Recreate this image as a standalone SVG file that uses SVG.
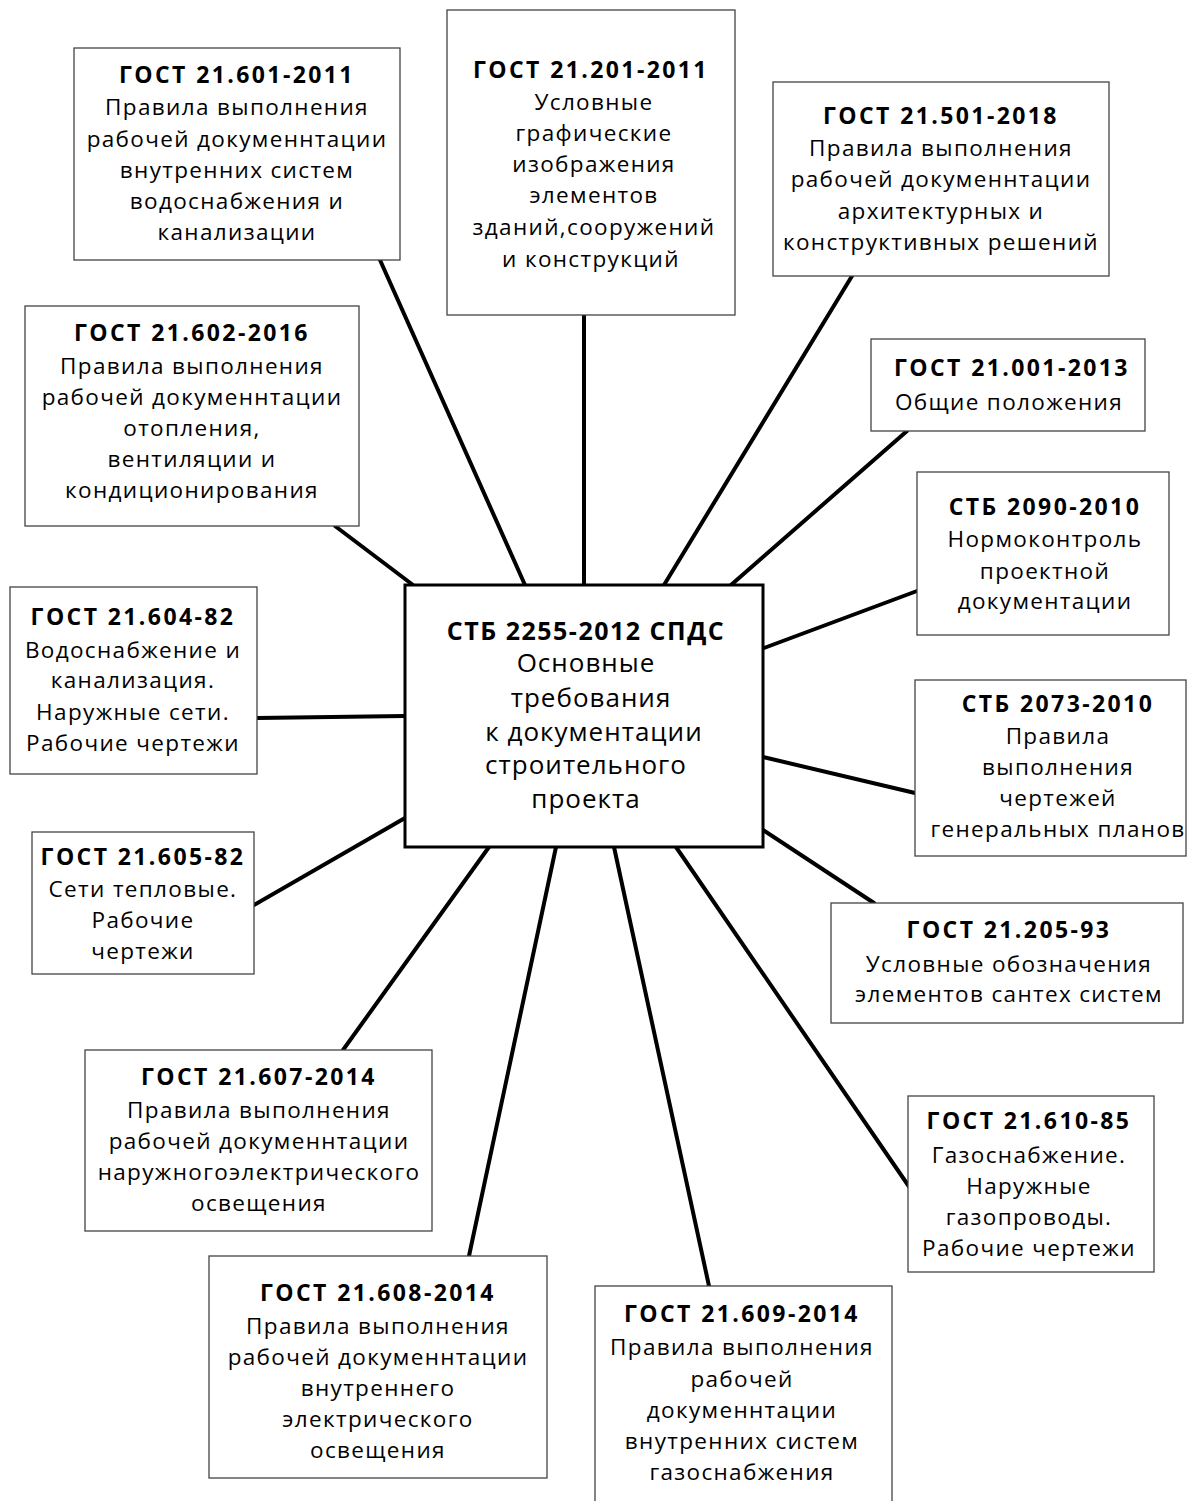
<svg xmlns="http://www.w3.org/2000/svg" width="1187" height="1501" viewBox="0 0 1187 1501">
<style>
.box{fill:#fff;stroke:#444;stroke-width:1.3}
.cbox{fill:#fff;stroke:#000;stroke-width:3}
text{font-family:"Open Sans","Noto Sans",sans-serif;fill:#000;text-anchor:middle;dominant-baseline:central}
.t{font-size:23px;font-weight:bold;letter-spacing:2.4px}
.b{font-size:22.5px;letter-spacing:1.35px}
.ct{font-size:25px;font-weight:bold;letter-spacing:1.5px}
.cb{font-size:26px;letter-spacing:1px}
.con line{stroke:#000;stroke-width:4;stroke-linecap:round}
</style>
<rect width="1187" height="1501" fill="#fff"/>
<g class="con">
<line x1="380" y1="260" x2="525" y2="585"/>
<line x1="584" y1="315" x2="584" y2="585"/>
<line x1="852" y1="276" x2="664" y2="585"/>
<line x1="907" y1="431" x2="731" y2="585"/>
<line x1="917" y1="591" x2="764" y2="648"/>
<line x1="915" y1="793" x2="763" y2="757"/>
<line x1="874" y1="903" x2="763" y2="830"/>
<line x1="910" y1="1188" x2="676" y2="847"/>
<line x1="709" y1="1286" x2="614" y2="847"/>
<line x1="469" y1="1256" x2="556" y2="847"/>
<line x1="343" y1="1050" x2="489" y2="847"/>
<line x1="254" y1="905" x2="405" y2="818"/>
<line x1="257" y1="718" x2="405" y2="716"/>
<line x1="335" y1="526" x2="413" y2="585"/>
</g>
<g id="center">
<rect class="cbox" x="405" y="585" width="358" height="262"/>
<text class="ct" x="586" y="630">СТБ 2255-2012 СПДС</text>
<text class="cb" x="586" y="662">Основные</text>
<text class="cb" x="591" y="697">требования</text>
<text class="cb" x="594" y="731">к документации</text>
<text class="cb" x="586" y="764">строительного</text>
<text class="cb" x="586" y="798">проекта</text>
</g>
<g id="n601">
<rect class="box" x="74" y="48" width="326" height="212"/>
<text class="t" x="237" y="74">ГОСТ 21.601-2011</text>
<text class="b" x="237" y="106">Правила выполнения</text>
<text class="b" x="237" y="138">рабочей докуменнтации</text>
<text class="b" x="237" y="169">внутренних систем</text>
<text class="b" x="237" y="200">водоснабжения и</text>
<text class="b" x="237" y="231">канализации</text>
</g>
<g id="n201">
<rect class="box" x="447" y="10" width="288" height="305"/>
<text class="t" x="591" y="69">ГОСТ 21.201-2011</text>
<text class="b" x="594" y="101">Условные</text>
<text class="b" x="594" y="132">графические</text>
<text class="b" x="594" y="163">изображения</text>
<text class="b" x="594" y="194">элементов</text>
<text class="b" x="594" y="226">зданий,сооружений</text>
<text class="b" x="591" y="258">и конструкций</text>
</g>
<g id="n501">
<rect class="box" x="773" y="82" width="336" height="194"/>
<text class="t" x="941" y="115">ГОСТ 21.501-2018</text>
<text class="b" x="941" y="147">Правила выполнения</text>
<text class="b" x="941" y="178">рабочей докуменнтации</text>
<text class="b" x="941" y="210">архитектурных и</text>
<text class="b" x="941" y="241">конструктивных решений</text>
</g>
<g id="n001">
<rect class="box" x="871" y="339" width="274" height="92"/>
<text class="t" x="1012" y="367">ГОСТ 21.001-2013</text>
<text class="b" x="1009" y="401">Общие положения</text>
</g>
<g id="n2090">
<rect class="box" x="917" y="472" width="252" height="163"/>
<text class="t" x="1045" y="506">СТБ 2090-2010</text>
<text class="b" x="1045" y="538">Нормоконтроль</text>
<text class="b" x="1045" y="570">проектной</text>
<text class="b" x="1045" y="600">документации</text>
</g>
<g id="n2073">
<rect class="box" x="915" y="680" width="271" height="176"/>
<text class="t" x="1058" y="703">СТБ 2073-2010</text>
<text class="b" x="1058" y="735">Правила</text>
<text class="b" x="1058" y="766">выполнения</text>
<text class="b" x="1058" y="797">чертежей</text>
<text class="b" x="1058" y="828">генеральных планов</text>
</g>
<g id="n205">
<rect class="box" x="831" y="903" width="352" height="120"/>
<text class="t" x="1009" y="929">ГОСТ 21.205-93</text>
<text class="b" x="1009" y="963">Условные обозначения</text>
<text class="b" x="1009" y="993">элементов сантех систем</text>
</g>
<g id="n610">
<rect class="box" x="908" y="1096" width="246" height="176"/>
<text class="t" x="1029" y="1120">ГОСТ 21.610-85</text>
<text class="b" x="1029" y="1154">Газоснабжение.</text>
<text class="b" x="1029" y="1185">Наружные</text>
<text class="b" x="1029" y="1216">газопроводы.</text>
<text class="b" x="1029" y="1247">Рабочие чертежи</text>
</g>
<g id="n609">
<rect class="box" x="595" y="1286" width="297" height="220"/>
<text class="t" x="742" y="1313">ГОСТ 21.609-2014</text>
<text class="b" x="742" y="1346">Правила выполнения</text>
<text class="b" x="742" y="1378">рабочей</text>
<text class="b" x="742" y="1409">докуменнтации</text>
<text class="b" x="742" y="1440">внутренних систем</text>
<text class="b" x="742" y="1471">газоснабжения</text>
</g>
<g id="n608">
<rect class="box" x="209" y="1256" width="338" height="222"/>
<text class="t" x="378" y="1292">ГОСТ 21.608-2014</text>
<text class="b" x="378" y="1325">Правила выполнения</text>
<text class="b" x="378" y="1356">рабочей докуменнтации</text>
<text class="b" x="378" y="1387">внутреннего</text>
<text class="b" x="378" y="1418">электрического</text>
<text class="b" x="378" y="1449">освещения</text>
</g>
<g id="n607">
<rect class="box" x="85" y="1050" width="347" height="181"/>
<text class="t" x="259" y="1076">ГОСТ 21.607-2014</text>
<text class="b" x="259" y="1109">Правила выполнения</text>
<text class="b" x="259" y="1140">рабочей докуменнтации</text>
<text class="b" x="259" y="1171">наружногоэлектрического</text>
<text class="b" x="259" y="1202">освещения</text>
</g>
<g id="n605">
<rect class="box" x="32" y="832" width="222" height="142"/>
<text class="t" x="143" y="856">ГОСТ 21.605-82</text>
<text class="b" x="143" y="888">Сети тепловые.</text>
<text class="b" x="143" y="919">Рабочие</text>
<text class="b" x="143" y="950">чертежи</text>
</g>
<g id="n604">
<rect class="box" x="10" y="587" width="247" height="187"/>
<text class="t" x="133" y="616">ГОСТ 21.604-82</text>
<text class="b" x="133" y="649">Водоснабжение и</text>
<text class="b" x="133" y="679">канализация.</text>
<text class="b" x="133" y="711">Наружные сети.</text>
<text class="b" x="133" y="742">Рабочие чертежи</text>
</g>
<g id="n602">
<rect class="box" x="25" y="306" width="334" height="220"/>
<text class="t" x="192" y="332">ГОСТ 21.602-2016</text>
<text class="b" x="192" y="365">Правила выполнения</text>
<text class="b" x="192" y="396">рабочей докуменнтации</text>
<text class="b" x="192" y="427">отопления,</text>
<text class="b" x="192" y="458">вентиляции и</text>
<text class="b" x="192" y="489">кондиционирования</text>
</g>
</svg>
